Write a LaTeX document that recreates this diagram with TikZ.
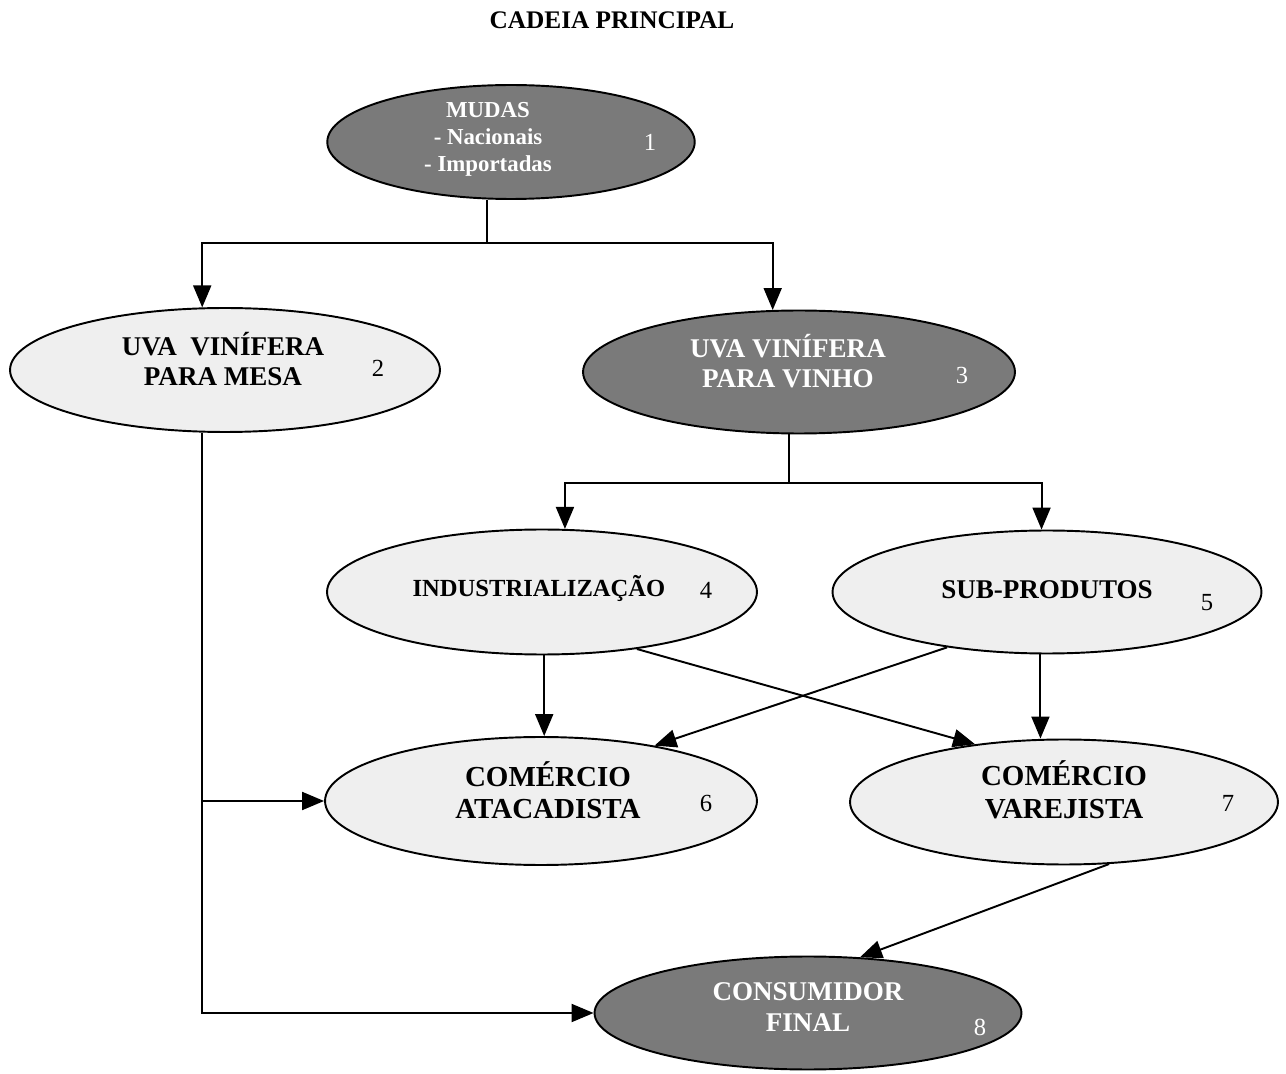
\documentclass[tikz,border=0pt]{standalone}
\usepackage{fontspec}
\setmainfont{Liberation Serif}
\usetikzlibrary{arrows.meta, positioning, calc, shapes.geometric}
\definecolor{escuro}{HTML}{7A7A7A}
\definecolor{claro}{HTML}{EFEFEF}

\begin{document}
\begin{tikzpicture}[x=0.02cm, y=-0.02cm, line width=1.1pt,
    etapa/.style={ellipse, draw, fill=claro, inner sep=0pt, minimum width=8.6cm, minimum height=2.48cm},
    escura/.style={etapa, fill=escuro},
    rotulo/.style={align=center, font=\fontsize{15.4}{17}\selectfont\bfseries},
    num/.style={font=\fontsize{14}{16}\selectfont},
    seta/.style={-{Triangle[length=0.44cm, width=0.36cm]}}]
    \useasboundingbox (0,0) rectangle (1286,1074);

    \node[rotulo, font=\fontsize{14.4}{16}\selectfont\bfseries] (titulo) at (612,20) {CADEIA PRINCIPAL};

    % etapas
    \node[escura, minimum width=7.35cm, minimum height=2.28cm] (mudas) at (511,142) {};
    \node[etapa] (mesa) at (225,370) {};
    \node[escura, minimum width=8.64cm, minimum height=2.46cm] (vinho) at (799,372) {};
    \node[etapa, minimum height=2.5cm] (ind) at (542,592) {};
    \node[etapa, minimum width=8.58cm, minimum height=2.46cm] (sub) at (1047,592) {};
    \node[etapa, minimum width=8.64cm, minimum height=2.56cm] (atac) at (541,801) {};
    \node[etapa, minimum width=8.56cm, minimum height=2.5cm] (var) at (1064,802) {};
    \node[escura, minimum width=8.54cm, minimum height=2.26cm] (cons) at (808,1013) {};

    % textos
    \node[rotulo, text=white, font=\fontsize{13}{15.3}\selectfont\bfseries] (mudas-t) at (488,139) {MUDAS\\- Nacionais\\- Importadas};
    \node[rotulo] (mesa-t) at (223,359) {UVA\ \ VINÍFERA\\PARA MESA};
    \node[rotulo, text=white] (vinho-t) at (788,361) {UVA VINÍFERA\\PARA VINHO};
    \node[rotulo, font=\fontsize{14}{16}\selectfont\bfseries] (ind-t) at (539,588) {INDUSTRIALIZAÇÃO};
    \node[rotulo] (sub-t) at (1047,590) {SUB-PRODUTOS};
    \node[rotulo, font=\fontsize{16.5}{18.5}\selectfont\bfseries] (atac-t) at (548,790) {COMÉRCIO\\ATACADISTA};
    \node[rotulo, font=\fontsize{16.5}{18.5}\selectfont\bfseries] (var-t) at (1064,790) {COMÉRCIO\\VAREJISTA};
    \node[rotulo, text=white, font=\fontsize{15.4}{18}\selectfont\bfseries] (cons-t) at (808,1007) {CONSUMIDOR\\FINAL};

    \node[num, text=white] (n1) at (650,142) {1};
    \node[num] (n2) at (378,368) {2};
    \node[num, text=white] (n3) at (962,375) {3};
    \node[num] (n4) at (706,590) {4};
    \node[num] (n5) at (1207,603) {5};
    \node[num] (n6) at (706,803) {6};
    \node[num] (n7) at (1228,803) {7};
    \node[num, text=white] (n8) at (980,1027) {8};

    % ligacoes
    \coordinate (ramo1) at (487,243);
    \coordinate (ramo2) at (789,483);
    \coordinate (desvio) at (203,800);
    \draw (mudas.south -| ramo1) -- (ramo1);
    \draw[seta] (ramo1) -| (mesa.110);
    \draw[seta] (ramo1) -| (vinho.113);
    \draw (vinho.south -| ramo2) -- (ramo2);
    \draw[seta] (ramo2) -| (ind.70);
    \draw[seta] (ramo2) -| (sub.95);
    \draw[seta] (mesa.110 |- mesa.south) |- (cons.west);
    \draw[seta] (desvio |- atac.west) -- (atac.west);
    \draw[seta] (ind.272) -- (ind.272 |- atac.north);
    \draw[seta] (sub.264) -- (sub.264 |- var.north);
    \draw[seta] (ind.-31) -- (var.147);
    \draw[seta] (sub.209) -- (atac.26);
    \draw[seta] (var.-54) -- (cons.47);
\end{tikzpicture}
\end{document}
